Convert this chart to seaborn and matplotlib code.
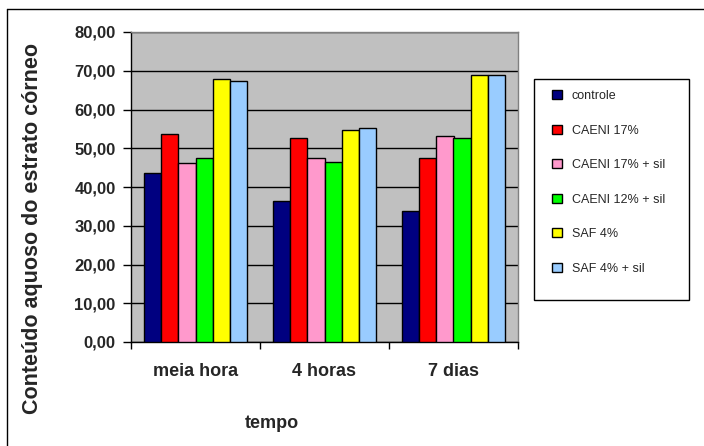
import pandas as pd
import matplotlib.pyplot as plt
import seaborn as sns
from matplotlib.lines import Line2D
from matplotlib.patches import Rectangle
from matplotlib.ticker import FixedLocator

# data
tempos = ['meia hora', '4 horas', '7 dias']
grupos = ['controle', 'CAENI 17%', 'CAENI 17% + sil', 'CAENI 12% + sil', 'SAF 4%', 'SAF 4% + sil']
controle = [43.5, 36.3, 33.8]
caeni17 = [53.8, 52.6, 47.6]
caeni17_sil = [46.3, 47.4, 53.2]
caeni12_sil = [47.4, 46.4, 52.6]
saf4 = [68.0, 54.8, 69.0]
saf4_sil = [67.3, 55.1, 69.0]
yticks = [0, 10, 20, 30, 40, 50, 60, 70, 80]
ytick_labels = ['0,00', '10,00', '20,00', '30,00', '40,00', '50,00', '60,00', '70,00', '80,00']

cores = ['#000080', '#FF0000', '#FF99CC', '#00FF00', '#FFFF00', '#99CCFF']

series = [controle, caeni17, caeni17_sil, caeni12_sil, saf4, saf4_sil]
rows = []
for g, vals in zip(grupos, series):
    for t, v in zip(tempos, vals):
        rows.append({'tempo': t, 'grupo': g, 'valor': v})
df = pd.DataFrame(rows)

sns.set_style('white')
plt.rcParams['font.family'] = ['Liberation Sans', 'DejaVu Sans']

fig = plt.figure(figsize=(7.04, 4.46), dpi=100)
ax = fig.add_axes([131 / 704, 1 - 342 / 446, 387 / 704, 310 / 446])
ax.set_facecolor('#C0C0C0')

sns.barplot(data=df, x='tempo', y='valor', hue='grupo', order=tempos, hue_order=grupos,
            palette=cores, saturation=1, edgecolor='black', linewidth=1, width=0.8,
            ax=ax, zorder=3)

ax.set_ylim(0, 80)
ax.set_xlim(-0.5, 2.5)
ax.set_yticks(yticks)
ax.set_yticklabels(ytick_labels, fontsize=12, fontweight='bold')
ax.yaxis.grid(True, color='black', linewidth=1)
ax.set_axisbelow(True)

# category boundaries carry the tick marks, names sit in the middle
ax.xaxis.set_major_locator(FixedLocator([-0.5, 0.5, 1.5, 2.5]))
ax.set_xticklabels(['', '', '', ''])
ax.xaxis.set_minor_locator(FixedLocator([0, 1, 2]))
ax.set_xticklabels(tempos, minor=True, fontsize=13, fontweight='bold')
ax.tick_params(axis='x', which='major', direction='out', length=5, width=1, color='black', bottom=True)
ax.tick_params(axis='x', which='minor', length=0, pad=15)
ax.tick_params(axis='y', direction='out', length=6, width=1, color='black', left=True, pad=5)
ax.set_xlabel('')
ax.set_ylabel('')

for side in ['top', 'right']:
    ax.spines[side].set_color('#808080')
    ax.spines[side].set_linewidth(1)
for side in ['left', 'bottom']:
    ax.spines[side].set_color('black')
    ax.spines[side].set_linewidth(1)

fig.text(33 / 704, 1 - 228 / 446, 'Conteúdo aquoso do estrato córneo', rotation=90,
         ha='center', va='center', fontsize=15.5, fontweight='bold')
fig.text(272 / 704, 1 - 423 / 446, 'tempo', ha='center', va='center', fontsize=13, fontweight='bold')

# legend
handles, labels = ax.get_legend_handles_labels()
ax.get_legend().remove()
fig.patches.append(Rectangle((534 / 704, 1 - 300 / 446), 155 / 704, 221 / 446,
                             transform=fig.transFigure, facecolor='white', edgecolor='black',
                             linewidth=1))
leg = fig.legend(handles, labels, loc='upper left', bbox_to_anchor=(546 / 704, 1 - 84 / 446),
                 frameon=False, fontsize=9, handlelength=0.75, handleheight=0.75,
                 labelspacing=1.8, handletextpad=0.8, borderpad=0)

# outer chart border
fig.add_artist(Line2D([7 / 704, 1], [1 - 9 / 446, 1 - 9 / 446], color='black', linewidth=1,
                      transform=fig.transFigure))
fig.add_artist(Line2D([7 / 704, 7 / 704], [0, 1 - 9 / 446], color='black', linewidth=1,
                      transform=fig.transFigure))

fig.savefig('out.png', dpi=100)
